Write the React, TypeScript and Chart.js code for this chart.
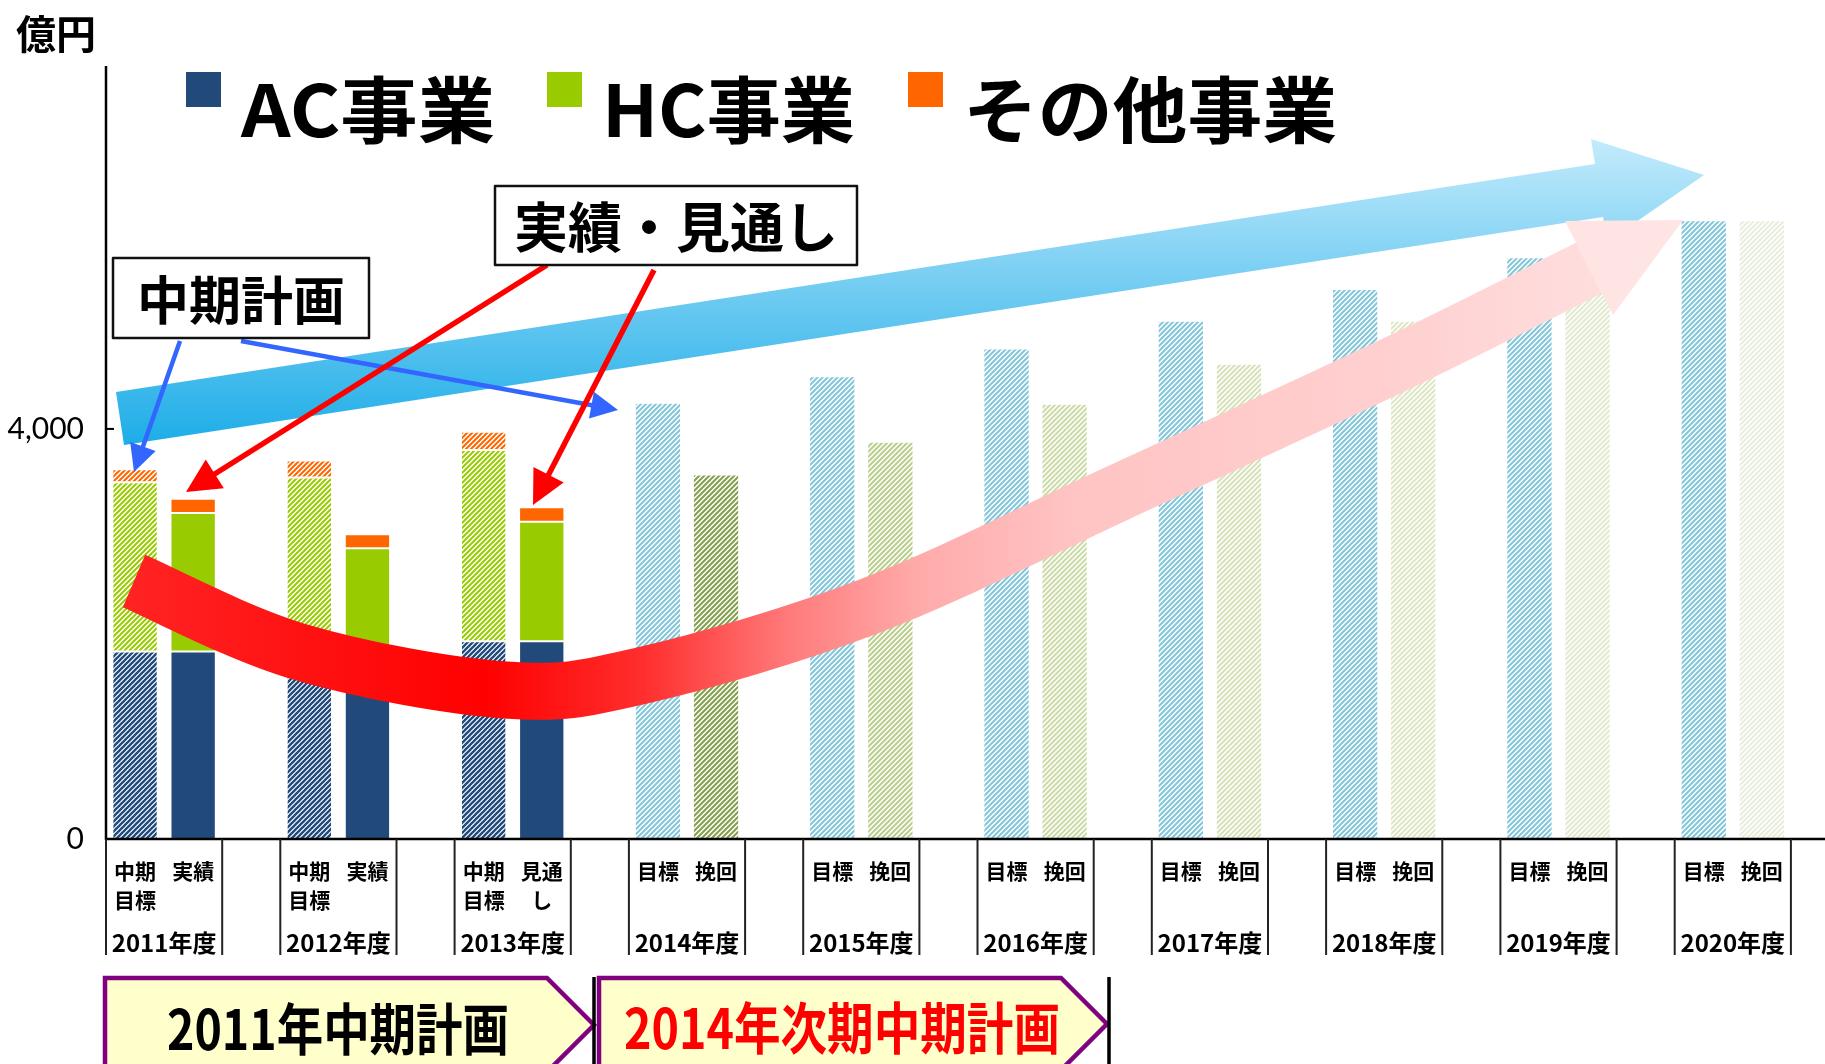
import React, { useEffect, useRef } from 'react';
import { Chart, registerables } from 'chart.js';

Chart.register(...registerables);

const CANVAS_W = 1870;
const CANVAS_H = 1064;

// ---------------- data ----------------
const years = ['2011年度', '2012年度', '2013年度', '2014年度', '2015年度', '2016年度', '2017年度', '2018年度', '2019年度', '2020年度'];
const slotLabelsTop = [
  ['中期', '実績'], ['中期', '実績'], ['中期', '見通'],
  ['目標', '挽回'], ['目標', '挽回'], ['目標', '挽回'], ['目標', '挽回'],
  ['目標', '挽回'], ['目標', '挽回'], ['目標', '挽回'],
];
const slotLabelsBottom = [
  ['目標', ''], ['目標', ''], ['目標', 'し'],
  ['', ''], ['', ''], ['', ''], ['', ''], ['', ''], ['', ''], ['', ''],
];

// 億円 (2011-2013: 中期目標 / 実績・見通し)
const planAC = [1830, 1800, 1930];
const planHC = [1650, 1725, 1865];
const planOther = [127, 166, 178];
const actualAC = [1830, 1700, 1930];
const actualHC = [1350, 1136, 1164];
const actualOther = [140, 137, 143];
// 億円 (2014-2020: 目標 / 挽回)
const targetTotal = [4250, 4510, 4780, 5050, 5360, 5670, 6030];
const recoveryTotal = [3550, 3870, 4240, 4630, 5050, 5500, 6030];

const yTickValues = [0, 4000];
const Y_MAX = 7540;

const legendLabels = ['AC事業', 'HC事業', 'その他事業'];
const unitLabel = '億円';
const calloutPlan = '中期計画';
const calloutActual = '実績・見通し';
const phaseLabels = ['2011年中期計画', '2014年次期中期計画'];

// ---------------- styles ----------------
const AC_COLOR = '#214A7B';
const HC_COLOR = '#99CC00';
const OTHER_COLOR = '#FF6600';
const TARGET_STRIPE = '#84C6DA';
const RECOVERY_STRIPES = ['#86A050', '#BACF8E', '#CCDBA8', '#D6E2BA', '#DDE7C6', '#E2EACF', '#E9EEDC'];
const JP = '"Noto Sans CJK JP", "Noto Sans", sans-serif';

function stripePattern(ctx: CanvasRenderingContext2D, color: string, lw = 2.0, size = 5) {
  const c = document.createElement('canvas');
  c.width = size;
  c.height = size;
  const g = c.getContext('2d')!;
  g.fillStyle = '#ffffff';
  g.fillRect(0, 0, size, size);
  g.strokeStyle = color;
  g.lineWidth = lw;
  g.beginPath();
  g.moveTo(-1, size + 1);
  g.lineTo(size + 1, -1);
  g.moveTo(-2, 2);
  g.lineTo(2, -2);
  g.moveTo(size - 2, size + 2);
  g.lineTo(size + 2, size - 2);
  g.stroke();
  return ctx.createPattern(c, 'repeat')!;
}

// draw text squeezed/stretched horizontally to a given width
function fitText(ctx: CanvasRenderingContext2D, text: string, x: number, y: number, width: number, align: 'left' | 'center') {
  const w = ctx.measureText(text).width;
  const sx = width / w;
  ctx.save();
  ctx.translate(x, y);
  ctx.scale(sx, 1);
  ctx.textAlign = align;
  ctx.fillText(text, 0, 0);
  ctx.restore();
}

function arrowLine(ctx: CanvasRenderingContext2D, x1: number, y1: number, x2: number, y2: number, color: string, lw: number, hl: number, hw: number) {
  const a = Math.atan2(y2 - y1, x2 - x1);
  const dx = Math.cos(a), dy = Math.sin(a);
  const bx = x2 - dx * hl, by = y2 - dy * hl;
  ctx.strokeStyle = color;
  ctx.fillStyle = color;
  ctx.lineWidth = lw;
  ctx.lineCap = 'butt';
  ctx.beginPath();
  ctx.moveTo(x1, y1);
  ctx.lineTo(bx + dx * 2, by + dy * 2);
  ctx.stroke();
  ctx.beginPath();
  ctx.moveTo(x2, y2);
  ctx.lineTo(bx - dy * hw / 2, by + dx * hw / 2);
  ctx.lineTo(bx + dy * hw / 2, by - dx * hw / 2);
  ctx.closePath();
  ctx.fill();
}

function calloutBox(ctx: CanvasRenderingContext2D, x: number, y: number, w: number, h: number, text: string, size: number) {
  ctx.fillStyle = '#ffffff';
  ctx.fillRect(x, y, w, h);
  ctx.strokeStyle = '#111';
  ctx.lineWidth = 2.5;
  ctx.strokeRect(x, y, w, h);
  ctx.fillStyle = '#000';
  ctx.font = `bold ${size}px ${JP}`;
  ctx.textAlign = 'center';
  ctx.textBaseline = 'middle';
  ctx.fillText(text, x + w / 2, y + h / 2 + 2);
}

function chevron(ctx: CanvasRenderingContext2D, x0: number, top: number, xb: number, tip: number, text: string, color: string, textCx: number, textW: number) {
  const half = tip - xb;
  ctx.beginPath();
  ctx.moveTo(x0, top);
  ctx.lineTo(xb, top);
  ctx.lineTo(tip, top + half);
  ctx.lineTo(xb, top + 2 * half);
  ctx.lineTo(x0, top + 2 * half);
  ctx.closePath();
  ctx.fillStyle = '#FFFFCC';
  ctx.fill();
  ctx.strokeStyle = '#800080';
  ctx.lineWidth = 4.5;
  ctx.lineJoin = 'miter';
  ctx.stroke();
  ctx.fillStyle = color;
  ctx.font = `bold 56px ${JP}`;
  ctx.textBaseline = 'middle';
  fitText(ctx, text, textCx, top + half + 4, textW, 'center');
}

function catmull(ctx: CanvasRenderingContext2D, pts: number[][]) {
  ctx.moveTo(pts[0][0], pts[0][1]);
  for (let i = 0; i < pts.length - 1; i++) {
    const p0 = pts[Math.max(0, i - 1)], p1 = pts[i], p2 = pts[i + 1], p3 = pts[Math.min(pts.length - 1, i + 2)];
    ctx.bezierCurveTo(
      p1[0] + (p2[0] - p0[0]) / 6, p1[1] + (p2[1] - p0[1]) / 6,
      p2[0] - (p3[0] - p1[0]) / 6, p2[1] - (p3[1] - p1[1]) / 6,
      p2[0], p2[1]
    );
  }
}

const overlayPlugin = {
  id: 'overlay',
  afterDatasetsDraw(chart: any) {
    const ctx: CanvasRenderingContext2D = chart.ctx;
    const xs = chart.scales.x;
    const ys = chart.scales.y;
    const area = chart.chartArea;
    const slotW = xs.getPixelForValue(1) - xs.getPixelForValue(0);
    ctx.save();

    // ---- axes ----
    ctx.strokeStyle = '#000';
    ctx.lineWidth = 2.5;
    ctx.beginPath();
    ctx.moveTo(area.left, area.top);
    ctx.lineTo(area.left, area.bottom + 1);
    ctx.moveTo(area.left - 1, area.bottom);
    ctx.lineTo(chart.width, area.bottom);
    ctx.stroke();
    ctx.lineWidth = 2;
    yTickValues.forEach((v) => {
      const y = ys.getPixelForValue(v);
      if (v > 0) {
        ctx.beginPath();
        ctx.moveTo(area.left, y);
        ctx.lineTo(area.left + 8, y);
        ctx.stroke();
      }
      ctx.fillStyle = '#000';
      ctx.font = `30px Lato, "Noto Sans", sans-serif`;
      ctx.textAlign = 'right';
      ctx.textBaseline = 'middle';
      ctx.fillText(v.toLocaleString('en-US'), 84, y);
    });

    // ---- category cells ----
    years.forEach((yr, i) => {
      const c0 = xs.getPixelForValue(i * 3);
      const c1 = xs.getPixelForValue(i * 3 + 1);
      const left = c0 - slotW / 2;
      const right = c1 + slotW / 2;
      ctx.strokeStyle = '#222';
      ctx.lineWidth = 2;
      ctx.beginPath();
      ctx.moveTo(left, area.bottom);
      ctx.lineTo(left, area.bottom + 116);
      ctx.moveTo(right, area.bottom);
      ctx.lineTo(right, area.bottom + 116);
      ctx.stroke();
      ctx.fillStyle = '#000';
      ctx.textAlign = 'center';
      ctx.textBaseline = 'middle';
      ctx.font = `bold 21px ${JP}`;
      [c0, c1].forEach((cx, k) => {
        ctx.fillText(slotLabelsTop[i][k], cx, area.bottom + 32);
        if (slotLabelsBottom[i][k]) ctx.fillText(slotLabelsBottom[i][k], cx, area.bottom + 61);
      });
      ctx.font = `bold 24px ${JP}`;
      ctx.fillText(yr, (left + right) / 2, area.bottom + 104);
    });

    // ---- big blue arrow ----
    const bg = ctx.createLinearGradient(0, 470, 0, 135);
    bg.addColorStop(0, '#0FA8E6');
    bg.addColorStop(0.5, '#6AC9F1');
    bg.addColorStop(1, '#C6ECFC');
    ctx.fillStyle = bg;
    ctx.beginPath();
    ctx.moveTo(116, 392);
    ctx.lineTo(1595, 164);
    ctx.lineTo(1591, 139);
    ctx.lineTo(1704, 175);
    ctx.lineTo(1607, 242);
    ctx.lineTo(1603, 217);
    ctx.lineTo(124, 445);
    ctx.closePath();
    ctx.fill();

    // ---- red curved arrow ----
    const rg = ctx.createLinearGradient(100, 0, 1700, 0);
    rg.addColorStop(0, '#FF2626');
    rg.addColorStop(0.24, '#FF0000');
    rg.addColorStop(0.34, '#FF2E2E');
    rg.addColorStop(0.43, '#FF7A7A');
    rg.addColorStop(0.51, '#FFAAAA');
    rg.addColorStop(0.61, '#FFC4C4');
    rg.addColorStop(0.8, '#FFCFCF');
    rg.addColorStop(1, '#FFE4E4');
    const curve = [[134, 581], [300, 652], [505, 690], [640, 676], [870, 606], [1120, 492], [1400, 362], [1589, 268]];
    ctx.strokeStyle = rg;
    ctx.lineWidth = 57;
    ctx.lineCap = 'butt';
    ctx.lineJoin = 'round';
    ctx.beginPath();
    catmull(ctx, curve);
    ctx.stroke();
    ctx.fillStyle = '#FFE4E4';
    ctx.beginPath();
    ctx.moveTo(1565, 221);
    ctx.lineTo(1683, 220);
    ctx.lineTo(1613, 315);
    ctx.closePath();
    ctx.fill();

    // ---- callout arrows ----
    arrowLine(ctx, 180, 341, 134, 472, '#3366FF', 4.5, 27, 27);
    arrowLine(ctx, 241, 341, 618, 410, '#3366FF', 4.5, 27, 27);
    arrowLine(ctx, 547, 265, 186, 492, '#FF0000', 5.5, 34, 34);
    arrowLine(ctx, 654, 270, 533, 505, '#FF0000', 5.5, 34, 34);

    // ---- callout boxes ----
    calloutBox(ctx, 113, 258, 256, 80, calloutPlan, 52);
    calloutBox(ctx, 495, 186, 362, 79, calloutActual, 54);

    // ---- legend ----
    const legendColors = [AC_COLOR, HC_COLOR, OTHER_COLOR];
    const legendX = [186, 547, 908];
    const legendW = [254, 253, 374];
    legendLabels.forEach((lab, i) => {
      ctx.fillStyle = legendColors[i];
      ctx.fillRect(legendX[i], 72, 35, 35);
      ctx.fillStyle = '#000';
      ctx.font = `bold 72px ${JP}`;
      ctx.textBaseline = 'middle';
      fitText(ctx, lab, legendX[i] + 55, 110, legendW[i], 'left');
    });

    // ---- unit ----
    ctx.font = `bold 40px ${JP}`;
    ctx.textAlign = 'left';
    ctx.textBaseline = 'middle';
    ctx.fillText(unitLabel, 16, 34);

    // ---- phase chevrons ----
    chevron(ctx, 105, 978, 547, 594, phaseLabels[0], '#000', 338, 342);
    chevron(ctx, 599, 978, 1061, 1107, phaseLabels[1], '#FF0000', 842, 436);
    ctx.strokeStyle = '#000';
    ctx.lineWidth = 3.5;
    ctx.beginPath();
    ctx.moveTo(594, 977);
    ctx.lineTo(594, 1064);
    ctx.moveTo(1109, 977);
    ctx.lineTo(1109, 1064);
    ctx.stroke();

    ctx.restore();
  },
};

export default function App() {
  const ref = useRef<HTMLCanvasElement>(null);
  useEffect(() => {
    const canvas = ref.current!;
    const ctx = canvas.getContext('2d')!;
    const n = years.length * 3;
    const labels: string[] = [];
    years.forEach((yr, i) => {
      labels.push(`${yr} ${slotLabelsTop[i][0]}${slotLabelsBottom[i][0]}`);
      labels.push(`${yr} ${slotLabelsTop[i][1]}${slotLabelsBottom[i][1]}`);
      labels.push(`${yr}`);
    });
    const empty = () => Array(n).fill(null) as (number | null)[];
    const clear = () => Array(n).fill('rgba(0,0,0,0)') as any[];

    const acData = empty(), hcData = empty(), otData = empty();
    const acBg = clear(), hcBg = clear(), otBg = clear();
    const acPat = stripePattern(ctx, AC_COLOR, 2.3);
    const hcPat = stripePattern(ctx, HC_COLOR, 2.0);
    const otPat = stripePattern(ctx, OTHER_COLOR, 2.0);
    planAC.forEach((_, i) => {
      acData[i * 3] = planAC[i];
      hcData[i * 3] = planHC[i];
      otData[i * 3] = planOther[i];
      acData[i * 3 + 1] = actualAC[i];
      hcData[i * 3 + 1] = actualHC[i];
      otData[i * 3 + 1] = actualOther[i];
      acBg[i * 3] = acPat; hcBg[i * 3] = hcPat; otBg[i * 3] = otPat;
      acBg[i * 3 + 1] = AC_COLOR; hcBg[i * 3 + 1] = HC_COLOR; otBg[i * 3 + 1] = OTHER_COLOR;
    });
    const off = planAC.length;
    const tgData = empty(), rcData = empty();
    const tgBg = clear(), rcBg = clear();
    const tgPat = stripePattern(ctx, TARGET_STRIPE, 2.1);
    targetTotal.forEach((v, i) => {
      tgData[(i + off) * 3] = v;
      tgBg[(i + off) * 3] = tgPat;
      rcData[(i + off) * 3 + 1] = recoveryTotal[i];
      rcBg[(i + off) * 3 + 1] = stripePattern(ctx, RECOVERY_STRIPES[i], 2.1);
    });

    const common = {
      categoryPercentage: 1,
      barPercentage: 0.78,
      borderColor: '#ffffff',
      borderWidth: 1,
      borderSkipped: false,
      stack: 's',
    };

    const chart = new Chart(canvas, {
      type: 'bar',
      data: {
        labels,
        datasets: [
          { label: legendLabels[0], data: acData, backgroundColor: acBg, ...common } as any,
          { label: legendLabels[1], data: hcData, backgroundColor: hcBg, ...common } as any,
          { label: legendLabels[2], data: otData, backgroundColor: otBg, ...common } as any,
          { label: '目標', data: tgData, backgroundColor: tgBg, ...common, borderWidth: 0.5 } as any,
          { label: '挽回', data: rcData, backgroundColor: rcBg, ...common, borderWidth: 0.5 } as any,
        ],
      },
      options: {
        responsive: false,
        animation: false,
        layout: { padding: { left: 106, top: 66, right: CANVAS_W - 1849, bottom: CANVAS_H - 839 } },
        plugins: { legend: { display: false }, tooltip: { enabled: false } },
        scales: {
          x: { stacked: true, display: false, offset: true },
          y: { stacked: true, display: false, min: 0, max: Y_MAX },
        },
      },
      plugins: [overlayPlugin],
    });
    return () => chart.destroy();
  }, []);

  return (
    <div style={{ position: 'fixed', left: 0, top: 0, width: 1825, height: 1064, overflow: 'hidden', background: '#ffffff' }}>
      <canvas ref={ref} width={CANVAS_W} height={CANVAS_H} style={{ display: 'block', width: CANVAS_W, height: CANVAS_H }} />
    </div>
  );
}
